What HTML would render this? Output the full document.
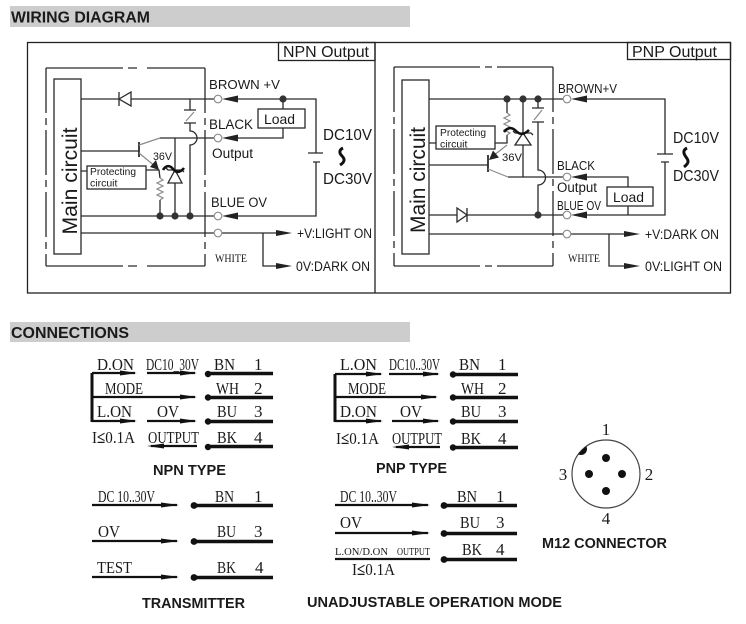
<!DOCTYPE html>
<html><head><meta charset="utf-8">
<style>
html,body{margin:0;padding:0;background:#fff;}
svg{display:block;}
.sa{font-family:"Liberation Sans",Arial,sans-serif;fill:#1a1a1a;}
.sr{font-family:"Liberation Serif","Times New Roman",serif;fill:#1a1a1a;}
.b{font-weight:bold;}
</style></head><body>
<svg width="746" height="624" viewBox="0 0 746 624" xmlns="http://www.w3.org/2000/svg">
<defs>
<clipPath id="m12c"><circle cx="606" cy="474" r="34"/></clipPath>
</defs>
<rect x="0" y="0" width="746" height="624" fill="#fff"/>

<!-- ===== Headers ===== -->
<rect x="10" y="6" width="400" height="21" fill="#cdcdcd"/>
<text class="sa b" x="11" y="22.5" font-size="16" textLength="139" lengthAdjust="spacingAndGlyphs">WIRING DIAGRAM</text>
<rect x="10" y="322" width="400" height="20" fill="#cdcdcd"/>
<text class="sa b" x="11" y="338" font-size="16" textLength="118" lengthAdjust="spacingAndGlyphs">CONNECTIONS</text>

<!-- ===== Frame ===== -->
<g fill="none" stroke="#222" stroke-width="1.3">
<rect x="27.5" y="42.5" width="703" height="250.5"/>
<line x1="375" y1="42" x2="375" y2="293"/>
<rect x="278.5" y="42.5" width="96.5" height="18"/>
<rect x="627.5" y="42.5" width="103" height="17"/>
</g>
<text class="sa" x="283" y="57" font-size="16" textLength="86" lengthAdjust="spacingAndGlyphs">NPN Output</text>
<text class="sa" x="632" y="57" font-size="16" textLength="85" lengthAdjust="spacingAndGlyphs">PNP Output</text>

<!-- ===== NPN panel ===== -->
<g fill="none" stroke="#2a2a2a" stroke-width="1.3">
<!-- dashed inner box -->
<path d="M46 68 H123 M128 68 H137 M147 68 H205 M46 266 H123 M128 266 H137 M147 266 H205"/>
<line x1="46" y1="68" x2="46" y2="266" stroke-dasharray="45 5 7 5"/>
<line x1="205" y1="68" x2="205" y2="266" stroke-dasharray="45 5 7 5"/>
<!-- main circuit box -->
<rect x="54" y="79" width="27" height="175"/>
<!-- wires -->
<path d="M81 99 H214 M237 99 H316 V153 M316 162 V216 H237 M81 216 H214"/>
<path d="M283 99 V109 M283 128 V138 H237 M214 138 H160"/>
<path d="M81 233 H214 M222 233 H280 M263 233 V266 H280"/>
<!-- battery -->
<path d="M308 153 H323 M313 162 H320"/>
<!-- load -->
<rect x="258" y="109" width="47" height="19" fill="#fff"/>
<!-- diode top -->
<path d="M119 92 V106"/>
<polygon points="119,99 131,92 131,106" fill="#fff"/>
<!-- transistor -->
<path d="M81 151 H139"/>
<path d="M139 142 V157" stroke-width="1.8"/>
<path d="M139 145 L160 138 M139 153 L156 167" stroke="#8a8a8a" stroke-width="1.2"/>
<!-- protecting circuit -->
<path d="M81 171 H87 M146 170 H159 L160 178"/>
<rect x="87" y="166" width="59" height="23" fill="#fff"/>
<!-- resistor -->
<path d="M160 178 l3 2 l-6 3 l6 3 l-6 3 l6 3 l-6 3 l6 3 l-3 2" stroke="#8a8a8a" stroke-width="1.2"/>
<path d="M160 200 V216"/>
<!-- zener -->
<path d="M175 138 V216"/>
<polygon points="175,170 168,183 182,183" fill="#fff"/>
<path d="M166 168 L168 170 H182 L184 172"/>
<!-- capacitor -->
<path d="M190 99 V110 M184 110 H196 M184 123 H196 M190 123 V131 A7 7 0 0 1 190 145 V216"/>
<path d="M194 112 L186 121" stroke="#8a8a8a" stroke-width="1.2"/>
</g>
<!-- emitter arrow -->
<polygon points="159,170 150,167 156,160" fill="#222"/>
<!-- tilde -->
<path d="M163 170 c3 -5 7 -5 10 -1 s7 4 11 -1" fill="none" stroke="#111" stroke-width="2.6"/>
<!-- vertical tilde -->
<path d="M343 148 c-4 2 -4 5 -1 8 s3 6 -2 9" fill="none" stroke="#111" stroke-width="3"/>
<!-- circles, dots, arrows -->
<g fill="#fff" stroke="#8a8a8a" stroke-width="1.1">
<circle cx="218" cy="99" r="3.8"/><circle cx="218" cy="138" r="3.8"/>
<circle cx="218" cy="216" r="3.8"/><circle cx="218" cy="233" r="3.8"/>
</g>
<g fill="#333">
<circle cx="283" cy="99" r="3.6"/>
<circle cx="160" cy="216" r="3.6"/><circle cx="175" cy="216" r="3.6"/><circle cx="190" cy="216" r="3.6"/>
</g>
<g fill="#222">
<polygon points="222,99 238,95.5 238,102.5"/>
<polygon points="222,138 238,134.5 238,141.5"/>
<polygon points="222,216 238,212.5 238,219.5"/>
<polygon points="276,230 292,233 276,236"/>
<polygon points="276,263 292,266 276,269"/>
</g>
<!-- NPN text -->
<text class="sa" transform="translate(77,181) rotate(-90)" text-anchor="middle" font-size="21" textLength="107" lengthAdjust="spacingAndGlyphs">Main circuit</text>
<text class="sa" x="90" y="175" font-size="10.5" textLength="46" lengthAdjust="spacingAndGlyphs">Protecting</text>
<text class="sa" x="90" y="186.5" font-size="10.5">circuit</text>
<text class="sa" x="153" y="160" font-size="11" textLength="19" lengthAdjust="spacingAndGlyphs">36V</text>
<text class="sa" x="209" y="89" font-size="13" textLength="71" lengthAdjust="spacingAndGlyphs">BROWN +V</text>
<text class="sa" x="209" y="129" font-size="13.5" textLength="44" lengthAdjust="spacingAndGlyphs">BLACK</text>
<text class="sa" x="212" y="158" font-size="13.5" textLength="41" lengthAdjust="spacingAndGlyphs">Output</text>
<text class="sa" x="211" y="207" font-size="13.5" textLength="56" lengthAdjust="spacingAndGlyphs">BLUE OV</text>
<text class="sa" x="264" y="124" font-size="14" textLength="31" lengthAdjust="spacingAndGlyphs">Load</text>
<text class="sa" x="323" y="140" font-size="16" textLength="49" lengthAdjust="spacingAndGlyphs">DC10V</text>
<text class="sa" x="323" y="184" font-size="16" textLength="49" lengthAdjust="spacingAndGlyphs">DC30V</text>
<text class="sa" x="297" y="238" font-size="13.5" textLength="75" lengthAdjust="spacingAndGlyphs">+V:LIGHT ON</text>
<text class="sa" x="296" y="271" font-size="13.5" textLength="74" lengthAdjust="spacingAndGlyphs">0V:DARK ON</text>
<text class="sr" x="215" y="262" font-size="12" textLength="32" lengthAdjust="spacingAndGlyphs">WHITE</text>

<!-- ===== PNP panel ===== -->
<g fill="none" stroke="#2a2a2a" stroke-width="1.3">
<path d="M394 67 H480 M485 67 H492 M497 67 H553 M394 266 H480 M485 266 H492 M497 266 H553"/>
<line x1="394" y1="67" x2="394" y2="266" stroke-dasharray="45 5 7 5"/>
<line x1="553" y1="67" x2="553" y2="266" stroke-dasharray="45 5 7 5"/>
<rect x="402" y="80" width="27" height="174"/>
<!-- wires -->
<path d="M429 99 H563 M586 99 H665 V154 M665 162 V215 H586 M429 215 H563"/>
<path d="M586 177 H628 V187 M628 206 V215 M563 177 H508"/>
<path d="M429 234 H563 M571 234 H626 M609 234 V266 H626"/>
<path d="M657 154 H673 M661 162 H669"/>
<rect x="607" y="187" width="46" height="19" fill="#fff"/>
<!-- diode bottom -->
<polygon points="457,208 457,222 467,215" fill="#fff"/>
<path d="M467 208 V222"/>
<!-- protecting -->
<path d="M429 143 H436 M495 143 H507 V135"/>
<rect x="436" y="126" width="59" height="23" fill="#fff"/>
<!-- resistor -->
<path d="M507 99 V113"/>
<path d="M507 113 l3 2 l-6 3 l6 3 l-6 3 l6 3 l-6 3 l6 3 l-3 2" stroke="#8a8a8a" stroke-width="1.2"/>
<!-- transistor -->
<path d="M429 165 H488"/>
<path d="M488 155 V172" stroke-width="1.8"/>
<path d="M493 156 L507 145 M488 169 L508 177" stroke="#8a8a8a" stroke-width="1.2"/>
<!-- zener -->
<path d="M523 99 V177"/>
<polygon points="523,133 515,145 531,145" fill="#fff"/>
<path d="M513 131 L515 133 H531 L533 135"/>
<!-- capacitor -->
<path d="M538 99 V108 M532 108 H544 M532 122 H544 M538 122 V170 A7.5 7.5 0 0 1 538 185 V215"/>
<path d="M542 110 L534 120" stroke="#8a8a8a" stroke-width="1.2"/>
</g>
<polygon points="489,160 499,157.5 493,150.5" fill="#222"/>
<path d="M504 132 c4 -5 8 -5 12 -1 s8 4 13 -1" fill="none" stroke="#111" stroke-width="2.6"/>
<path d="M687 148 c-4 2 -4 5 -1 9 s3 6 -2 10" fill="none" stroke="#111" stroke-width="3"/>
<g fill="#fff" stroke="#8a8a8a" stroke-width="1.1">
<circle cx="567" cy="99" r="3.8"/><circle cx="567" cy="177" r="3.8"/>
<circle cx="567" cy="215" r="3.8"/><circle cx="567" cy="234" r="3.8"/>
</g>
<g fill="#333">
<circle cx="507" cy="99" r="3.6"/><circle cx="523" cy="99" r="3.6"/><circle cx="538" cy="99" r="3.6"/>
<circle cx="538" cy="215" r="3.6"/>
</g>
<g fill="#222">
<polygon points="571,99 587,95.5 587,102.5"/>
<polygon points="571,177 587,173.5 587,180.5"/>
<polygon points="571,215 587,211.5 587,218.5"/>
<polygon points="624,231 640,234 624,237"/>
<polygon points="624,263 640,266 624,269"/>
</g>
<text class="sa" transform="translate(425,180) rotate(-90)" text-anchor="middle" font-size="21" textLength="106" lengthAdjust="spacingAndGlyphs">Main circuit</text>
<text class="sa" x="440" y="136" font-size="10.5" textLength="46" lengthAdjust="spacingAndGlyphs">Protecting</text>
<text class="sa" x="440" y="147.5" font-size="10.5">circuit</text>
<text class="sa" x="502" y="161" font-size="11" textLength="20" lengthAdjust="spacingAndGlyphs">36V</text>
<text class="sa" x="558" y="93" font-size="12.5" textLength="59" lengthAdjust="spacingAndGlyphs">BROWN+V</text>
<text class="sa" x="557" y="170" font-size="13" textLength="38" lengthAdjust="spacingAndGlyphs">BLACK</text>
<text class="sa" x="557" y="192" font-size="13.5" textLength="40" lengthAdjust="spacingAndGlyphs">Output</text>
<text class="sa" x="557" y="210" font-size="12.5" textLength="44" lengthAdjust="spacingAndGlyphs">BLUE OV</text>
<text class="sa" x="613" y="202" font-size="14" textLength="31" lengthAdjust="spacingAndGlyphs">Load</text>
<text class="sa" x="673" y="143" font-size="16" textLength="46" lengthAdjust="spacingAndGlyphs">DC10V</text>
<text class="sa" x="673" y="181" font-size="16" textLength="46" lengthAdjust="spacingAndGlyphs">DC30V</text>
<text class="sa" x="645" y="239" font-size="13.5" textLength="74" lengthAdjust="spacingAndGlyphs">+V:DARK ON</text>
<text class="sa" x="645" y="271" font-size="13.5" textLength="77" lengthAdjust="spacingAndGlyphs">0V:LIGHT ON</text>
<text class="sr" x="568" y="262" font-size="12" textLength="32" lengthAdjust="spacingAndGlyphs">WHITE</text>

<!-- ===== CONNECTIONS ===== -->
<g fill="none" stroke="#111" stroke-width="2.2">
<!-- NPN -->
<path d="M92 373 V422" stroke-width="3"/>
<path d="M92 373 H135 M147 373 H195 M92 397 H195 M92 421 H135 M147 421 H195 M151 446 H197"/>
<path d="M208 373.5 H273 M208 397.5 H273 M208 421.5 H273 M208 446.5 H273" stroke-width="3.4"/>
<!-- PNP -->
<path d="M335 374 V422" stroke-width="3"/>
<path d="M335 374 H381 M389 374 H438 M335 397 H436 M335 421 H381 M392 421 H438 M396 447 H440"/>
<path d="M453 374.5 H518 M453 397.5 H518 M453 421.5 H518 M453 447.5 H518" stroke-width="3.4"/>
<!-- Transmitter -->
<path d="M92 505 H177 M92 541 H177 M92 577 H177"/>
<path d="M194 505.5 H273 M194 541.5 H273 M194 577.5 H273" stroke-width="3.4"/>
<!-- Unadjustable -->
<path d="M335 505 H428 M335 533 H428 M335 559 H430"/>
<path d="M444 505.5 H517 M444 533.5 H517 M444 559.5 H517" stroke-width="3.4"/>
</g>
<g fill="#111">
<!-- right arrowheads -->
<polygon points="120,370.5 137,373 120,375.5"/>
<polygon points="180,370.5 197,373 180,375.5"/>
<polygon points="180,394.5 197,397 180,399.5"/>
<polygon points="120,418.5 137,421 120,423.5"/>
<polygon points="180,418.5 197,421 180,423.5"/>
<polygon points="164,443.5 147,446 164,448.5"/>
<circle cx="208" cy="374" r="3.2"/><circle cx="208" cy="397.5" r="3.2"/>
<circle cx="208" cy="421.5" r="3.2"/><circle cx="208" cy="447" r="3.2"/>

<polygon points="366,371.5 383,374 366,376.5"/>
<polygon points="423,371.5 440,374 423,376.5"/>
<polygon points="421,394.5 438,397 421,399.5"/>
<polygon points="366,418.5 383,421 366,423.5"/>
<polygon points="423,418.5 440,421 423,423.5"/>
<polygon points="409,444.5 392,447 409,449.5"/>
<circle cx="453" cy="374.5" r="3.2"/><circle cx="453" cy="397.5" r="3.2"/>
<circle cx="453" cy="421.5" r="3.2"/><circle cx="453" cy="447.5" r="3.2"/>

<polygon points="161,502.5 179,505 161,507.5"/>
<polygon points="161,538.5 179,541 161,543.5"/>
<polygon points="161,574.5 179,577 161,579.5"/>
<circle cx="194" cy="505.5" r="3.4"/><circle cx="194" cy="541.5" r="3.4"/><circle cx="194" cy="577.5" r="3.4"/>

<polygon points="412,502.5 430,505 412,507.5"/>
<polygon points="412,530.5 430,533 412,535.5"/>
<circle cx="444" cy="505.5" r="3.4"/><circle cx="444" cy="533.5" r="3.4"/><circle cx="444" cy="559.5" r="3.4"/>
</g>

<g class="sr" font-size="17">
<!-- NPN texts -->
<text class="sr" x="97" y="370" textLength="37" lengthAdjust="spacingAndGlyphs">D.ON</text>
<text class="sr" x="146" y="370" textLength="53" lengthAdjust="spacingAndGlyphs">DC10_30V</text>
<text class="sr" x="214" y="370" textLength="21" lengthAdjust="spacingAndGlyphs">BN</text>
<text class="sr" x="254" y="370">1</text>
<text class="sr" x="105" y="394" textLength="38" lengthAdjust="spacingAndGlyphs">MODE</text>
<text class="sr" x="216" y="394" textLength="23" lengthAdjust="spacingAndGlyphs">WH</text>
<text class="sr" x="254" y="394">2</text>
<text class="sr" x="97" y="417" textLength="35" lengthAdjust="spacingAndGlyphs">L.ON</text>
<text class="sr" x="157" y="417" textLength="22" lengthAdjust="spacingAndGlyphs">OV</text>
<text class="sr" x="217" y="417" textLength="20" lengthAdjust="spacingAndGlyphs">BU</text>
<text class="sr" x="254" y="417">3</text>
<text class="sr" x="92" y="443" textLength="43" lengthAdjust="spacingAndGlyphs">I<tspan font-weight="bold">≤</tspan>0.1A</text>
<text class="sr" x="148" y="443" textLength="51" lengthAdjust="spacingAndGlyphs">OUTPUT</text>
<text class="sr" x="217" y="443" textLength="20" lengthAdjust="spacingAndGlyphs">BK</text>
<text class="sr" x="254" y="443">4</text>
<!-- PNP texts -->
<text class="sr" x="340" y="370" textLength="37" lengthAdjust="spacingAndGlyphs">L.ON</text>
<text class="sr" x="389" y="370" textLength="51" lengthAdjust="spacingAndGlyphs">DC10..30V</text>
<text class="sr" x="459" y="370" textLength="21" lengthAdjust="spacingAndGlyphs">BN</text>
<text class="sr" x="498" y="370">1</text>
<text class="sr" x="348" y="394" textLength="38" lengthAdjust="spacingAndGlyphs">MODE</text>
<text class="sr" x="461" y="394" textLength="23" lengthAdjust="spacingAndGlyphs">WH</text>
<text class="sr" x="498" y="394">2</text>
<text class="sr" x="340" y="417" textLength="37" lengthAdjust="spacingAndGlyphs">D.ON</text>
<text class="sr" x="400" y="417" textLength="22" lengthAdjust="spacingAndGlyphs">OV</text>
<text class="sr" x="461" y="417" textLength="20" lengthAdjust="spacingAndGlyphs">BU</text>
<text class="sr" x="498" y="417">3</text>
<text class="sr" x="336" y="444" textLength="43" lengthAdjust="spacingAndGlyphs">I<tspan font-weight="bold">≤</tspan>0.1A</text>
<text class="sr" x="392" y="444" textLength="50" lengthAdjust="spacingAndGlyphs">OUTPUT</text>
<text class="sr" x="461" y="444" textLength="20" lengthAdjust="spacingAndGlyphs">BK</text>
<text class="sr" x="498" y="444">4</text>
<!-- Transmitter -->
<text class="sr" x="98" y="502" textLength="57" lengthAdjust="spacingAndGlyphs">DC 10..30V</text>
<text class="sr" x="215" y="502" textLength="19" lengthAdjust="spacingAndGlyphs">BN</text>
<text class="sr" x="254" y="502">1</text>
<text class="sr" x="98" y="537" textLength="22" lengthAdjust="spacingAndGlyphs">OV</text>
<text class="sr" x="217" y="537" textLength="19" lengthAdjust="spacingAndGlyphs">BU</text>
<text class="sr" x="254" y="537">3</text>
<text class="sr" x="97" y="573" textLength="35" lengthAdjust="spacingAndGlyphs">TEST</text>
<text class="sr" x="217" y="573" textLength="19" lengthAdjust="spacingAndGlyphs">BK</text>
<text class="sr" x="255" y="573">4</text>
<!-- Unadjustable -->
<text class="sr" x="340" y="502" textLength="57" lengthAdjust="spacingAndGlyphs">DC 10..30V</text>
<text class="sr" x="457" y="502" textLength="20" lengthAdjust="spacingAndGlyphs">BN</text>
<text class="sr" x="496" y="502">1</text>
<text class="sr" x="340" y="528" textLength="22" lengthAdjust="spacingAndGlyphs">OV</text>
<text class="sr" x="460" y="528" textLength="20" lengthAdjust="spacingAndGlyphs">BU</text>
<text class="sr" x="496" y="528">3</text>
<text class="sr" x="335" y="555" font-size="11" textLength="53" lengthAdjust="spacingAndGlyphs">L.ON/D.ON</text>
<text class="sr" x="397" y="555" font-size="11" textLength="33" lengthAdjust="spacingAndGlyphs">OUTPUT</text>
<text class="sr" x="462" y="555" textLength="20" lengthAdjust="spacingAndGlyphs">BK</text>
<text class="sr" x="496" y="555">4</text>
<text class="sr" x="352" y="575" textLength="43" lengthAdjust="spacingAndGlyphs">I<tspan font-weight="bold">≤</tspan>0.1A</text>
</g>

<!-- Titles -->
<text class="sa b" x="153" y="475" font-size="14.5" textLength="73" lengthAdjust="spacingAndGlyphs">NPN TYPE</text>
<text class="sa b" x="376" y="473" font-size="14.5" textLength="71" lengthAdjust="spacingAndGlyphs">PNP TYPE</text>
<text class="sa b" x="142" y="608" font-size="14.5" textLength="103" lengthAdjust="spacingAndGlyphs">TRANSMITTER</text>
<text class="sa b" x="307" y="607" font-size="14.5" textLength="255" lengthAdjust="spacingAndGlyphs">UNADJUSTABLE OPERATION MODE</text>
<text class="sa b" x="542" y="548" font-size="14.5" textLength="125" lengthAdjust="spacingAndGlyphs">M12 CONNECTOR</text>

<!-- M12 connector -->
<circle cx="606" cy="474" r="34" fill="none" stroke="#444" stroke-width="1.2"/>
<circle cx="581" cy="449" r="6" fill="#111" clip-path="url(#m12c)"/>
<g fill="#111">
<circle cx="606" cy="458" r="4"/><circle cx="589" cy="474" r="4"/>
<circle cx="622" cy="474" r="4"/><circle cx="606" cy="491" r="4"/>
</g>
<text class="sr" x="606" y="435" font-size="17" text-anchor="middle">1</text>
<text class="sr" x="649" y="480" font-size="17" text-anchor="middle">2</text>
<text class="sr" x="563" y="480" font-size="17" text-anchor="middle">3</text>
<text class="sr" x="606" y="524" font-size="17" text-anchor="middle">4</text>
</svg>
</body></html>
